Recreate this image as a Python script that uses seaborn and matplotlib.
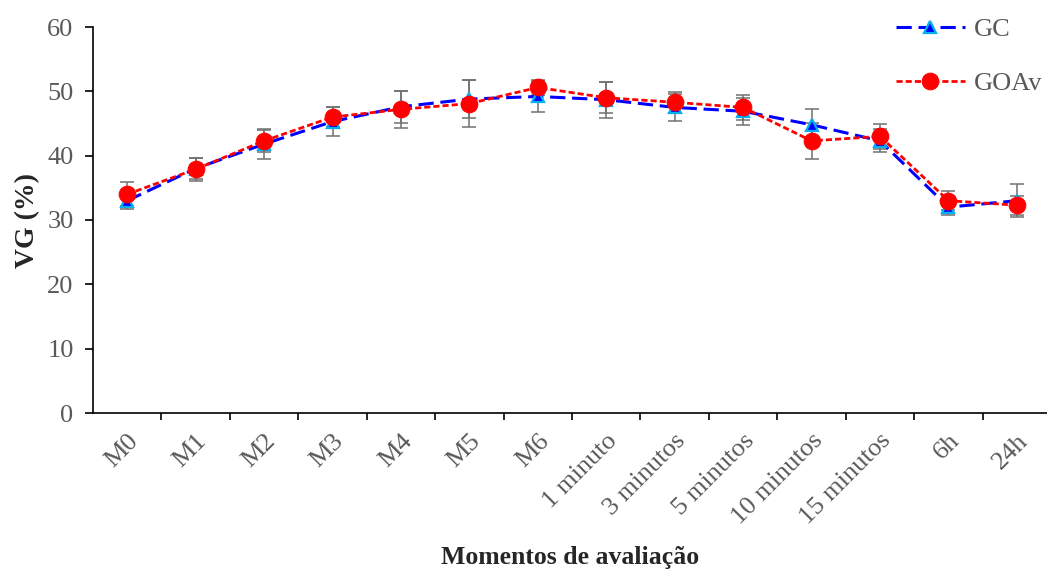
import numpy as np
import pandas as pd
import matplotlib
matplotlib.use("Agg")
import matplotlib.pyplot as plt
import seaborn as sns
from matplotlib.ticker import FixedLocator

# Evaluation moments
moments = ["M0", "M1", "M2", "M3", "M4", "M5", "M6", "1 minuto", "3 minutos",
           "5 minutos", "10 minutos", "15 minutos", "6h", "24h"]

# Mean VG (%) and standard deviation per group
gc_mean = [33.0, 38.0, 41.8, 45.3, 47.6, 48.8, 49.2, 48.7, 47.5, 46.9, 44.8, 42.3, 32.0, 33.0]
gc_sd = [1.3, 1.6, 2.3, 2.3, 2.5, 3.0, 2.4, 2.8, 2.1, 2.1, 2.5, 1.8, 1.3, 2.6]
goav_mean = [34.0, 37.9, 42.3, 46.0, 47.2, 48.1, 50.6, 49.0, 48.3, 47.5, 42.3, 43.0, 33.0, 32.3]
goav_sd = [1.9, 1.8, 1.7, 1.6, 2.9, 3.6, 1.2, 2.4, 1.6, 2.0, 2.8, 2.0, 1.5, 1.5]

df = pd.DataFrame({
    "pos": np.arange(len(moments)),
    "GC": gc_mean,
    "GOAv": goav_mean,
})

sns.set_style("ticks")
plt.rcParams["font.family"] = ["Liberation Serif", "DejaVu Serif"]

fig = plt.figure(figsize=(10.47, 5.72), dpi=100)
ax = fig.add_axes([93 / 1047, 1 - 413 / 572, (1047 - 93) / 1047, (413 - 27) / 572])

err_color = "#707070"
ax.errorbar(df["pos"], gc_mean, yerr=gc_sd, fmt="none", ecolor=err_color,
            elinewidth=1.1, capsize=5, capthick=1.1, zorder=1)
ax.errorbar(df["pos"], goav_mean, yerr=goav_sd, fmt="none", ecolor=err_color,
            elinewidth=1.1, capsize=5, capthick=1.1, zorder=1)

sns.lineplot(data=df, x="pos", y="GC", ax=ax, sort=False, color="#0000FF",
             linewidth=2.2, linestyle=(0, (5, 2.2)), marker="^", markersize=9,
             markerfacecolor="#0000FF", markeredgecolor="#00B0F0",
             markeredgewidth=1.6, label="GC", zorder=3)
sns.lineplot(data=df, x="pos", y="GOAv", ax=ax, sort=False, color="#FF0000",
             linewidth=2.0, linestyle=(0, (2.2, 1.1)), marker="o", markersize=12,
             markerfacecolor="#FF0000", markeredgecolor="#FF0000",
             label="GOAv", zorder=4)

ax.set_xlim(-0.5, 13.44)
ax.set_ylim(0, 60)
ax.set_yticks(np.arange(0, 61, 10))
ax.set_xticks(df["pos"])
ax.set_xticklabels(moments, rotation=45, ha="right", rotation_mode="anchor")
ax.xaxis.set_minor_locator(FixedLocator(np.arange(0.5, 13.5, 1.0)))
ax.tick_params(axis="x", which="major", length=0, pad=12, labelsize=19,
               labelcolor="#595959")
ax.tick_params(axis="x", which="minor", length=5, width=1.2, direction="out",
               color="black")
ax.tick_params(axis="y", length=6, width=1.2, direction="out", labelsize=19,
               labelcolor="#595959", color="black", pad=8)

for side in ("top", "right"):
    ax.spines[side].set_visible(False)
for side in ("left", "bottom"):
    ax.spines[side].set_linewidth(1.2)
    ax.spines[side].set_color("black")

ax.set_ylabel("VG (%)", fontsize=20, fontweight="bold", labelpad=5)
ax.set_xlabel("Momentos de avaliação", fontsize=18.5, fontweight="bold", labelpad=12)

leg = ax.legend(loc="upper right", bbox_to_anchor=(1.02, 1.085), frameon=False,
                fontsize=19, handlelength=2.6, labelspacing=1.15,
                handletextpad=0.35)
for t in leg.get_texts():
    t.set_color("#595959")

fig.savefig("out.png", dpi=100)
